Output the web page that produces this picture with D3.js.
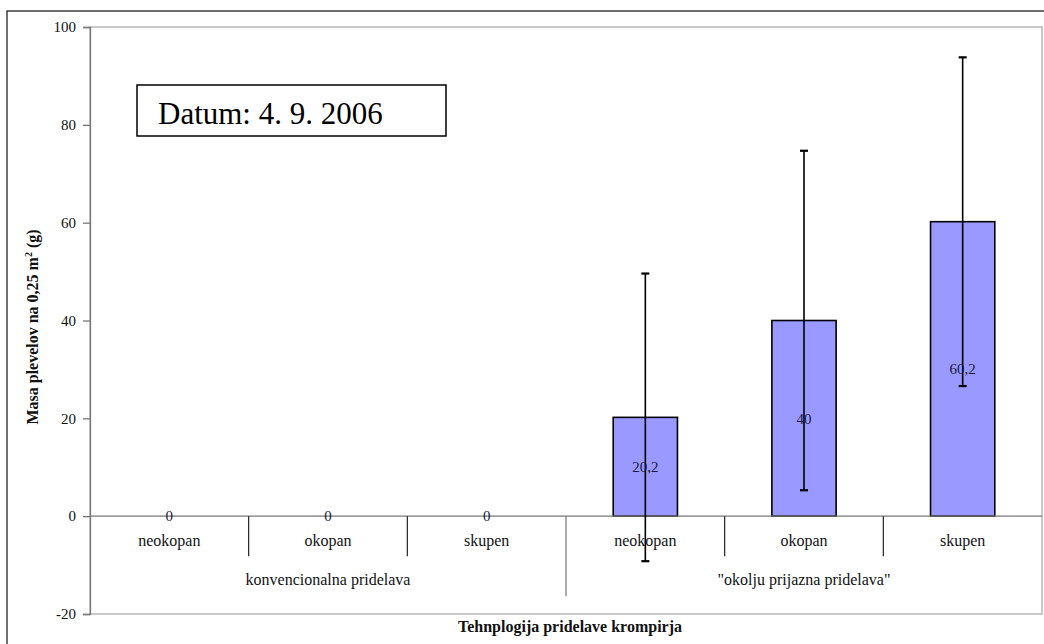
<!DOCTYPE html>
<html>
<head>
<meta charset="utf-8">
<script src="https://cdn.jsdelivr.net/npm/d3@7"></script>
<style>
  html, body { margin: 0; padding: 0; background: #fff; }
</style>
</head>
<body>
<svg id="chart" width="1044" height="644"></svg>
<script>
// Weed mass per 0.25 m² by potato production technology
const groups = ["konvencionalna pridelava", "\"okolju prijazna pridelava\""];
const categories = ["neokopan", "okopan", "skupen", "neokopan", "okopan", "skupen"];
const categoryGroup = [0, 0, 0, 1, 1, 1];
const values = [0, 0, 0, 20.2, 40, 60.2];
const errors = [0, 0, 0, 29.4, 34.7, 33.6];
const valueLabels = ["0", "0", "0", "20,2", "40", "60,2"];
const yTicks = [-20, 0, 20, 40, 60, 80, 100];
const dateNote = "Datum: 4. 9. 2006";
const yTitle = ["Masa plevelov na  0,25 m", "2", " (g)"];
const xTitle = "Tehnplogija pridelave krompirja";

const FONT = "'Liberation Serif', 'Times New Roman', serif";
const svg = d3.select("#chart");
const plot = { left: 90, right: 1042, top: 27, bottom: 614 };

// Outer chart frame
svg.append("rect").attr("x", 7).attr("y", 11).attr("width", 1060).attr("height", 660)
  .attr("fill", "none").attr("stroke", "#222").attr("stroke-width", 1.3);

// Plot area frame
svg.append("rect").attr("x", plot.left).attr("y", plot.top)
  .attr("width", plot.right - plot.left).attr("height", plot.bottom - plot.top)
  .attr("fill", "none").attr("stroke", "#b8b8b8").attr("stroke-width", 1.5);

const y = d3.scaleLinear().domain([-20, 100]).range([plot.bottom, plot.top]);
const x = d3.scaleBand().domain(d3.range(categories.length))
  .range([plot.left, plot.right]).paddingInner(0).paddingOuter(0);
const barW = x.bandwidth() * 0.405;

// Y axis
const yAxis = d3.axisLeft(y).tickValues(yTicks).tickSize(7).tickPadding(7)
  .tickFormat(d => String(d));
const gy = svg.append("g").attr("transform", `translate(${plot.left},0)`).call(yAxis);
gy.select(".domain").attr("stroke", "#777").attr("stroke-width", 1.3);
gy.selectAll(".tick line").attr("stroke", "#777").attr("stroke-width", 1.3);
gy.selectAll(".tick text").style("font-size", "15px").style("font-family", FONT).attr("fill", "#111");

// Bars
svg.append("g").selectAll("rect").data(values).join("rect")
  .attr("x", (d, i) => x(i) + (x.bandwidth() - barW) / 2)
  .attr("y", d => y(Math.max(d, 0)))
  .attr("width", barW)
  .attr("height", d => Math.abs(y(d) - y(0)))
  .attr("fill", "#9999ff")
  .attr("stroke", "#000").attr("stroke-width", 1.6)
  .attr("display", d => d === 0 ? "none" : null);

// Zero line / category axis
svg.append("line").attr("x1", plot.left).attr("x2", plot.right)
  .attr("y1", y(0)).attr("y2", y(0)).attr("stroke", "#777").attr("stroke-width", 1.3);

// Category separators
categories.forEach((c, i) => {
  if (i === 0) return;
  const isGroupEdge = categoryGroup[i] !== categoryGroup[i - 1];
  svg.append("line").attr("x1", x(i)).attr("x2", x(i))
    .attr("y1", y(0)).attr("y2", y(0) + (isGroupEdge ? 80 : 40))
    .attr("stroke", isGroupEdge ? "#777" : "#222").attr("stroke-width", 1.2);
});

// Category labels
svg.append("g").selectAll("text").data(categories).join("text")
  .attr("x", (d, i) => x(i) + x.bandwidth() / 2)
  .attr("y", y(0) + 30)
  .attr("text-anchor", "middle").style("font-size", "16px").style("font-family", FONT)
  .attr("fill", "#111")
  .text(d => d);

// Group labels
groups.forEach((g, gi) => {
  const idx = categories.map((c, i) => i).filter(i => categoryGroup[i] === gi);
  const x0 = x(idx[0]), x1 = x(idx[idx.length - 1]) + x.bandwidth();
  svg.append("text").attr("x", (x0 + x1) / 2).attr("y", y(0) + 69)
    .attr("text-anchor", "middle").style("font-size", "16px").style("font-family", FONT)
    .attr("fill", "#111")
    .text(g);
});

// Error bars
const eb = svg.append("g").attr("stroke", "#000").attr("stroke-width", 1.6);
values.forEach((v, i) => {
  if (!errors[i]) return;
  const cx = x(i) + x.bandwidth() / 2;
  eb.append("line").attr("x1", cx).attr("x2", cx)
    .attr("y1", y(v + errors[i])).attr("y2", y(v - errors[i]));
  [v + errors[i], v - errors[i]].forEach(e => {
    eb.append("line").attr("x1", cx - 4).attr("x2", cx + 4)
      .attr("y1", y(e)).attr("y2", y(e)).attr("stroke-width", 2.2);
  });
});

// Value labels at the middle of each bar
svg.append("g").selectAll("text").data(values).join("text")
  .attr("x", (d, i) => x(i) + x.bandwidth() / 2)
  .attr("y", d => y(d / 2))
  .attr("dy", "0.35em")
  .attr("text-anchor", "middle").style("font-size", "15px").style("font-family", FONT)
  .attr("fill", "#1a1a3a")
  .text((d, i) => valueLabels[i]);

// Date note box
svg.append("rect").attr("x", 137).attr("y", 85).attr("width", 309).attr("height", 51)
  .attr("fill", "#fff").attr("stroke", "#000").attr("stroke-width", 1.5);
svg.append("text").attr("x", 158).attr("y", 124)
  .style("font-size", "31px").style("font-family", FONT).attr("fill", "#000").text(dateNote);

// Y axis title
const yt = svg.append("text")
  .attr("transform", "translate(38,327) rotate(-90)")
  .attr("text-anchor", "middle").style("font-size", "16px").style("font-family", FONT)
  .attr("font-weight", "bold").attr("fill", "#111");
yt.append("tspan").text(yTitle[0]);
yt.append("tspan").attr("dy", -6).style("font-size", "10px").text(yTitle[1]);
yt.append("tspan").attr("dy", 6).text(yTitle[2]);

// X axis title
svg.append("text").attr("x", 570).attr("y", 632)
  .attr("text-anchor", "middle").style("font-size", "16px").style("font-family", FONT)
  .attr("font-weight", "bold").attr("fill", "#111")
  .text(xTitle);
</script>
</body>
</html>
